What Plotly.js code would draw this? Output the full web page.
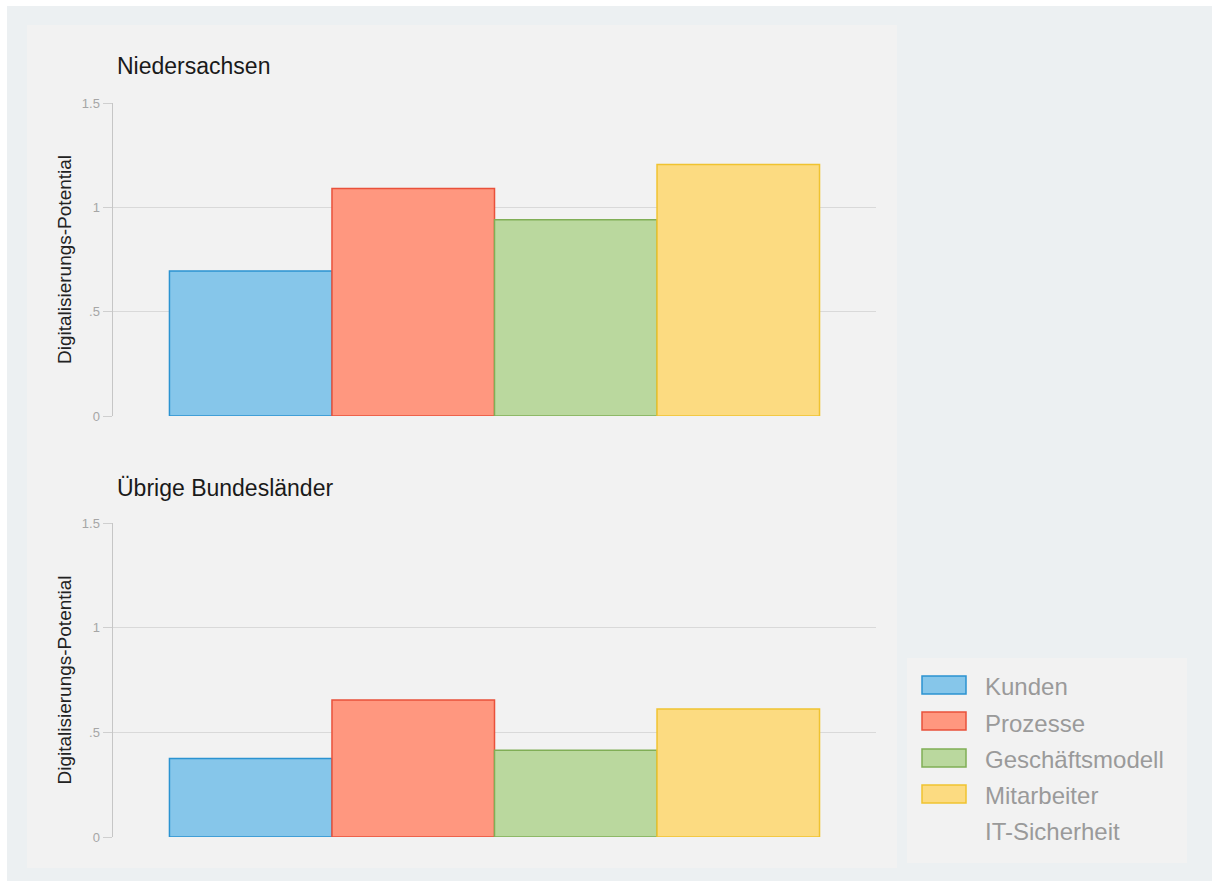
<!DOCTYPE html>
<html>
<head>
<meta charset="utf-8">
<script src="https://cdn.plot.ly/plotly-3.0.1.min.js"></script>
<style>html,body{margin:0;padding:0;background:#fff;}#chart{width:1212px;height:881px;}</style>
</head>
<body>
<div id="chart"></div>
<script>
// ---- data ----
const categories = ['Kunden', 'Prozesse', 'Geschäftsmodell', 'Mitarbeiter', 'IT-Sicherheit'];
const niedersachsen = [0.695, 1.09, 0.94, 1.205, null];
const uebrige = [0.375, 0.655, 0.415, 0.612, null];
const panelTitles = ['Niedersachsen', 'Übrige Bundesländer'];
const yTickVals = [0, 0.5, 1, 1.5];
const yTickText = ['0', '.5', '1', '1.5'];
const yTitle = 'Digitalisierungs-Potential';

// ---- styles ----
const fills = ['#86c6ea', '#ff977f', '#bad89e', '#fcdb81', null];
const lines = ['#2b93d1', '#e9513b', '#80ae56', '#f0c330', null];
const FONT = 'Liberation Sans, Arial, sans-serif';

const W = 1212, H = 881;
const L = 113, R = 876, T = 103, B = 837;
const px = x => (x - L) / (R - L);
const py = y => (B - y) / (B - T);

const traces = [];
[niedersachsen, uebrige].forEach((vals, s) => {
  categories.forEach((c, i) => {
    if (vals[i] === null) return;
    traces.push({
      type: 'bar', name: c, x: [0], y: [vals[i]],
      xaxis: s === 0 ? 'x' : 'x2', yaxis: s === 0 ? 'y' : 'y2',
      showlegend: false,
      marker: {color: fills[i], line: {color: lines[i], width: 1.5}}
    });
  });
});
// legend entries (swatches drawn as shapes to match the large keys)
categories.forEach((c, i) => {
  traces.push({
    type: 'scatter', mode: 'markers', name: c, x: [null], y: [null],
    xaxis: 'x', yaxis: 'y', showlegend: true, legendgroup: 'g' + i,
    marker: {color: 'rgba(0,0,0,0)', size: 1}, hoverinfo: 'skip'
  });
});

const yaxisBase = {
  range: [0, 1.5], tickvals: yTickVals, ticktext: yTickText,
  showgrid: true, gridcolor: '#d9d9d9', gridwidth: 1.5,
  showline: true, linecolor: '#c6c6c6', linewidth: 1.5,
  ticks: 'outside', ticklen: 9, tickcolor: '#cfcfcf', tickwidth: 1,
  tickfont: {family: FONT, size: 13, color: '#a6a6a6'},
  zeroline: false, fixedrange: true,
  title: {text: yTitle, font: {family: FONT, size: 19, color: '#222'}, standoff: 5}
};
const xaxisBase = {range: [-0.5, 0.5], showticklabels: false, showgrid: false, zeroline: false, showline: false, ticks: '', fixedrange: true};

const rowY = [685, 721, 758, 794, 830];
const swatches = [];
categories.forEach((c, i) => {
  if (!fills[i]) return;
  swatches.push({type: 'rect', xref: 'paper', yref: 'paper', x0: px(922), x1: px(966), y0: py(rowY[i] - 9), y1: py(rowY[i] + 9),
    fillcolor: fills[i], line: {color: lines[i], width: 1.5}, layer: 'above'});
});

const layout = {
  width: W, height: H,
  margin: {l: L, r: W - R, t: T, b: H - B, autoexpand: false},
  paper_bgcolor: '#ffffff', plot_bgcolor: 'rgba(0,0,0,0)',
  barmode: 'group', bargap: 0.148, bargroupgap: 0,
  font: {family: FONT},
  xaxis: Object.assign({domain: [0, 1], anchor: 'y'}, xaxisBase),
  xaxis2: Object.assign({domain: [0, 1], anchor: 'y2'}, xaxisBase),
  yaxis: Object.assign({domain: [py(416), 1], anchor: 'x'}, yaxisBase),
  yaxis2: Object.assign({domain: [0, py(523)], anchor: 'x2'}, yaxisBase),
  showlegend: true,
  legend: {
    x: px(945), y: py(664), xanchor: 'left', yanchor: 'top',
    bgcolor: 'rgba(0,0,0,0)', font: {size: 24, color: '#9a9a9a', family: FONT},
    traceorder: 'grouped', itemwidth: 30, tracegroupgap: 2
  },
  shapes: [
    {type: 'rect', xref: 'paper', yref: 'paper', x0: px(7), x1: px(W), y0: py(6), y1: py(H), fillcolor: '#ecf0f2', line: {width: 0}, layer: 'below'},
    {type: 'rect', xref: 'paper', yref: 'paper', x0: px(27), x1: px(897), y0: py(25), y1: py(868), fillcolor: '#f2f2f2', line: {width: 0}, layer: 'below'},
    {type: 'rect', xref: 'paper', yref: 'paper', x0: px(907), x1: px(1187), y0: py(658), y1: py(863), fillcolor: '#f2f2f2', line: {width: 0}, layer: 'below'}
  ].concat(swatches),
  annotations: [
    {text: panelTitles[0], xref: 'paper', yref: 'paper', x: px(115), y: py(66), xanchor: 'left', yanchor: 'middle', showarrow: false, font: {size: 23, color: '#1a1a1a'}},
    {text: panelTitles[1], xref: 'paper', yref: 'paper', x: px(115), y: py(488), xanchor: 'left', yanchor: 'middle', showarrow: false, font: {size: 23, color: '#1a1a1a'}}
  ]
};

Plotly.newPlot('chart', traces, layout, {displayModeBar: false, staticPlot: true});
</script>
</body>
</html>
